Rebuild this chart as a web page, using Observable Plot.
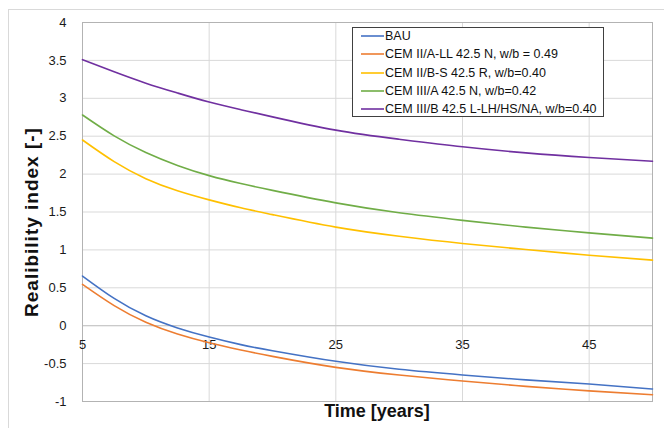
<!DOCTYPE html>
<html><head><meta charset="utf-8">
<script src="https://cdn.jsdelivr.net/npm/d3@7"></script>
<script src="https://cdn.jsdelivr.net/npm/@observablehq/plot@0.6"></script>
<style>
body{margin:0;background:#fff;font-family:Arial,"Liberation Sans",sans-serif;}
#wrap{position:relative;width:664px;height:428px;overflow:hidden;background:#fff;}
#border{position:absolute;left:8px;top:9px;width:800px;height:600px;border:1px solid #d9d9d9;}
#chart{position:absolute;left:0;top:0;}
.title{position:absolute;font-weight:bold;font-size:18px;color:#111;white-space:nowrap;}
#ytitle{left:32px;top:222px;font-size:19px;letter-spacing:1px;transform:translate(-50%,-50%) rotate(-90deg);}
#xtitle{left:377px;top:411px;transform:translate(-50%,-50%);}
#legend{position:absolute;left:352px;top:27px;width:250px;height:88px;border:1px solid #404040;background:#fff;}
.lrow{position:absolute;left:8px;height:18px;display:flex;align-items:center;font-size:12.5px;color:#111;white-space:nowrap;}
.lrow svg{margin-right:1px;}
</style></head><body>
<div id="wrap"><div id="border"></div><div id="chart"></div>
<div id="ytitle" class="title">Realibility index [-]</div>
<div id="xtitle" class="title">Time [years]</div>
<div id="legend"></div>
</div>
<script>
const years = [5, 7.5, 10, 12.5, 15, 17.5, 20, 25, 30, 35, 40, 45, 50];
const seriesNames = [
  "BAU",
  "CEM II/A-LL 42.5 N, w/b = 0.49",
  "CEM II/B-S 42.5 R, w/b=0.40",
  "CEM III/A 42.5 N, w/b=0.42",
  "CEM III/B 42.5 L-LH/HS/NA, w/b=0.40"
];
const bau      = [0.655, 0.36, 0.13, -0.03, -0.15, -0.25, -0.33, -0.47, -0.575, -0.65, -0.715, -0.77, -0.835];
const cemIIALL = [0.545, 0.265, 0.045, -0.11, -0.225, -0.32, -0.405, -0.55, -0.65, -0.73, -0.80, -0.86, -0.91];
const cemIIBS  = [2.45, 2.165, 1.94, 1.78, 1.66, 1.555, 1.465, 1.30, 1.18, 1.085, 1.005, 0.93, 0.865];
const cemIIIA  = [2.78, 2.505, 2.285, 2.115, 1.98, 1.875, 1.785, 1.62, 1.49, 1.39, 1.30, 1.225, 1.155];
const cemIIIB  = [3.51, 3.35, 3.20, 3.07, 2.95, 2.85, 2.755, 2.58, 2.46, 2.36, 2.28, 2.22, 2.17];
const seriesValues = [bau, cemIIALL, cemIIBS, cemIIIA, cemIIIB];
const colors = ["#4472C4", "#ED7D31", "#FFC000", "#70AD47", "#7030A0"];
const xTicks = [5, 15, 25, 35, 45];
const yTicks = [-1, -0.5, 0, 0.5, 1, 1.5, 2, 2.5, 3, 3.5, 4];

const data = seriesNames.flatMap((name, i) => years.map((t, j) => ({name, t, v: seriesValues[i][j]})));

const chart = Plot.plot({
  width: 664, height: 428,
  marginLeft: 82, marginRight: 12, marginTop: 22, marginBottom: 27,
  style: {fontFamily: 'Arial, "Liberation Sans", sans-serif', fontSize: "13px", color: "#1a1a1a", background: "transparent"},
  x: {domain: [5, 50], axis: null},
  y: {domain: [-1, 4]},
  color: {domain: seriesNames, range: colors},
  marks: [
    Plot.gridY(yTicks, {stroke: "#d9d9d9", strokeOpacity: 1}),
    Plot.gridX(xTicks, {stroke: "#d9d9d9", strokeOpacity: 1}),
    Plot.ruleY([0], {stroke: "#c6c6c6"}),
    Plot.frame({stroke: "#b3b3b3"}),
    Plot.axisY(yTicks, {tickSize: 0, tickPadding: 16, tickFormat: d => String(d), fontSize: 13, label: null}),
    Plot.text(xTicks, {x: d => d, y: 0, dy: 19, text: d => String(d), fontSize: 13, fill: "#1a1a1a"}),
    Plot.line(data, {x: "t", y: "v", stroke: "name", strokeWidth: 1.6, curve: "natural"})
  ]
});
document.getElementById("chart").appendChild(chart);

const legend = document.getElementById("legend");
const rowCenters = [8, 26.3, 44.7, 63, 81.3];
seriesNames.forEach((name, i) => {
  const row = document.createElement("div");
  row.className = "lrow";
  row.style.top = (rowCenters[i] - 9) + "px";
  row.innerHTML = `<svg width="23" height="4"><line x1="0" y1="2" x2="23" y2="2" stroke="${colors[i]}" stroke-width="1.6"/></svg>`;
  const span = document.createElement("span");
  span.textContent = name;
  row.appendChild(span);
  legend.appendChild(row);
});
</script>
</body></html>
